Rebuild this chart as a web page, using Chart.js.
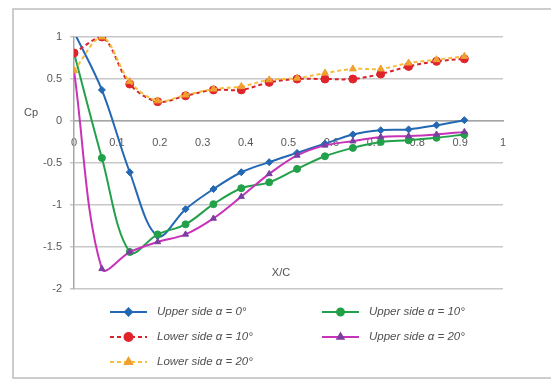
<!DOCTYPE html>
<html>
<head>
<meta charset="utf-8">
<script src="https://cdn.jsdelivr.net/npm/chart.js@4"></script>
<style>
html,body{margin:0;padding:0;background:#fff;}
#wrap{width:551px;height:381px;position:relative;}
</style>
</head>
<body>
<div id="wrap"><canvas id="c" width="551" height="381"></canvas></div>
<script>
// ---- data ----
const xPositions = [0, 0.065, 0.13, 0.195, 0.26, 0.325, 0.39, 0.455, 0.52, 0.585, 0.65, 0.715, 0.78, 0.845, 0.91];
const upper0  = [1.06, 0.37, -0.61, -1.37, -1.05, -0.81, -0.61, -0.49, -0.38, -0.27, -0.16, -0.11, -0.10, -0.05, 0.01];
const upper10 = [0.81, -0.44, -1.56, -1.35, -1.23, -0.99, -0.80, -0.73, -0.57, -0.42, -0.32, -0.25, -0.23, -0.20, -0.16];
const lower10 = [0.81, 1.00, 0.44, 0.23, 0.30, 0.37, 0.37, 0.46, 0.50, 0.50, 0.50, 0.56, 0.65, 0.71, 0.74];
const upper20 = [0.60, -1.76, -1.56, -1.44, -1.35, -1.16, -0.90, -0.63, -0.41, -0.29, -0.24, -0.19, -0.18, -0.16, -0.13];
const lower20 = [0.60, 1.00, 0.47, 0.24, 0.31, 0.38, 0.41, 0.49, 0.51, 0.57, 0.62, 0.62, 0.69, 0.73, 0.77];
const seriesNames = ["Upper side α = 0°", "Upper side α = 10°", "Lower side α = 10°", "Upper side α = 20°", "Lower side α = 20°"];
const xTickLabels = ["0", "0.1", "0.2", "0.3", "0.4", "0.5", "0.6", "0.7", "0.8", "0.9", "1"];
const yTickLabels = ["-2", "-1.5", "-1", "-0.5", "0", "0.5", "1"];
const xTitle = "X/C";
const yTitle = "Cp";

const FONT = "'Liberation Sans', Arial, sans-serif";
const pts = arr => arr.map((v, i) => ({x: xPositions[i], y: v}));

const styles = [
  {color: '#2468b4', fill: '#2468b4', point: 'rectRot', r: 3.5, dash: []},
  {color: '#22a14a', fill: '#22a14a', point: 'circle', r: 3.5, dash: []},
  {color: '#d8222c', fill: '#e0242c', point: 'circle', r: 4, dash: [4, 3]},
  {color: '#c832b8', fill: '#7a3fa0', point: 'triangle', r: 3.5, dash: []},
  {color: '#f7bd3a', fill: '#f0a030', point: 'triangle', r: 4, dash: [4, 3]}
];
const seriesData = [upper0, upper10, lower10, upper20, lower20];

const datasets = seriesData.map((d, i) => ({
  label: seriesNames[i],
  data: pts(d),
  borderColor: styles[i].color,
  backgroundColor: styles[i].fill,
  pointBackgroundColor: styles[i].fill,
  pointBorderColor: styles[i].fill,
  pointStyle: styles[i].point,
  pointRadius: styles[i].r,
  pointBorderWidth: 1,
  borderWidth: 2,
  borderDash: styles[i].dash,
  tension: 0.35,
  order: [4, 3, 1, 2, 0][i]
}));

const legendPos = [
  {x: 110, y: 312}, {x: 322, y: 312},
  {x: 110, y: 337}, {x: 322, y: 337},
  {x: 110, y: 362}
];
const legendOrder = [0, 1, 2, 3, 4];

const decor = {
  id: 'decor',
  beforeDraw(chart) {
    const ctx = chart.ctx;
    ctx.save();
    ctx.fillStyle = '#fff';
    ctx.fillRect(0, 0, chart.width, chart.height);
    ctx.strokeStyle = '#bdbdbd';
    ctx.lineWidth = 1.5;
    ctx.strokeRect(13, 9, 600, 369);
    ctx.restore();
  },
  afterDraw(chart) {
    const ctx = chart.ctx;
    ctx.save();
    ctx.fillStyle = '#505050';
    ctx.font = '11px ' + FONT;
    ctx.textAlign = 'center';
    ctx.textBaseline = 'middle';
    ctx.fillText(yTitle, 31, 113);
    ctx.fillText(xTitle, 281, 273);
    // legend
    legendOrder.forEach((di, k) => {
      const p = legendPos[k];
      const st = styles[di];
      ctx.save();
      ctx.strokeStyle = st.color;
      ctx.lineWidth = 2;
      ctx.setLineDash(st.dash.length ? [4, 3] : []);
      ctx.beginPath();
      ctx.moveTo(p.x, p.y);
      ctx.lineTo(p.x + 37, p.y);
      ctx.stroke();
      ctx.setLineDash([]);
      ctx.fillStyle = st.fill;
      ctx.strokeStyle = st.fill;
      Chart.helpers.drawPoint(ctx, {pointStyle: st.point, radius: st.r, rotation: 0, borderWidth: 1}, p.x + 18.5, p.y);
      ctx.restore();
      ctx.fillStyle = '#505050';
      ctx.font = 'italic 11.5px ' + FONT;
      ctx.textAlign = 'left';
      ctx.textBaseline = 'middle';
      ctx.fillText(seriesNames[di], p.x + 47, p.y);
    });
    ctx.restore();
  }
};

new Chart(document.getElementById('c'), {
  type: 'line',
  data: {datasets},
  plugins: [decor],
  options: {
    responsive: false,
    animation: false,
    devicePixelRatio: 1,
    layout: {padding: {left: 0, right: 48, top: 37, bottom: 92}},
    plugins: {legend: {display: false}, tooltip: {enabled: false}},
    scales: {
      x: {
        type: 'linear',
        min: 0, max: 1,
        position: {y: 0},
        afterBuildTicks: s => { s.ticks = xTickLabels.map(t => ({value: parseFloat(t)})); },
        ticks: {
          callback: (v, i) => xTickLabels[i],
          color: '#595959', font: {family: FONT, size: 11}, padding: 15, maxRotation: 0, autoSkip: false
        },
        grid: {drawOnChartArea: false, drawTicks: false},
        border: {display: true, color: '#a6a6a6', width: 1.5}
      },
      y: {
        type: 'linear',
        min: -2, max: 1,
        afterBuildTicks: s => { s.ticks = yTickLabels.map(t => ({value: parseFloat(t)})); },
        afterFit: s => { s.width = 74; },
        ticks: {
          callback: (v, i) => yTickLabels[i],
          color: '#595959', font: {family: FONT, size: 11}, padding: 8
        },
        grid: {color: '#c8c8c8', lineWidth: 1.5, tickLength: 4},
        border: {display: true, color: '#a6a6a6', width: 1.5}
      }
    }
  }
});
</script>
</body>
</html>
